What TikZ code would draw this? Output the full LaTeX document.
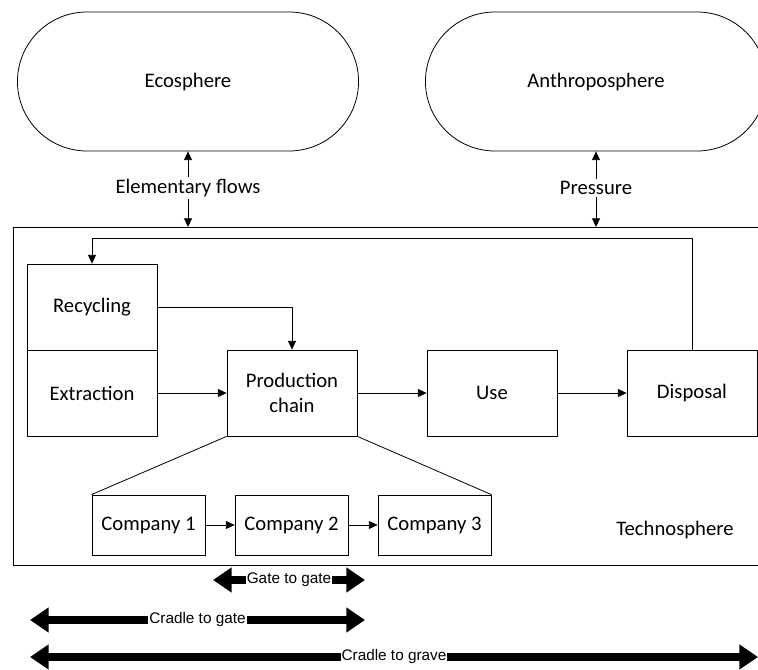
\documentclass[tikz,border=0pt]{standalone}
\usepackage{fontspec}
\setmainfont{Carlito}
\newfontfamily\arialfont{Liberation Sans}
\usetikzlibrary{arrows.meta,shapes.misc,calc}
\begin{document}
\begin{tikzpicture}[x=0.75pt,y=-0.75pt,
  every node/.style={font=\fontsize{15.5}{19}\selectfont},
  sphere/.style={draw, line width=0.6pt, rounded rectangle, minimum width=262.5pt, minimum height=104.25pt},
  box/.style={draw, line width=0.6pt, minimum width=97.5pt, minimum height=64.5pt, inner sep=0pt, align=center},
  comp/.style={draw, line width=0.6pt, minimum width=84.75pt, minimum height=45pt, inner sep=0pt},
  flowlab/.style={inner sep=1.5pt},
  arr/.style={-{Triangle[length=6.5pt,width=6pt]}, line width=0.6pt},
  plain/.style={line width=0.6pt},
  fat/.style={{Triangle[length=14pt,width=18pt]}-{Triangle[length=14pt,width=18pt]}, line width=6pt},
  lab/.style={fill=white, inner sep=0.8pt, font=\arialfont\fontsize{11.5}{13}\selectfont}
]
\useasboundingbox (0,0) rectangle (758,670);
\clip (0,0) rectangle (758,670);

% spheres
\node[sphere] (eco) at (188,81.5) {Ecosphere};
\node[sphere] (anthro) at (596,81.5) {Anthroposphere};

% technosphere container
\node[draw, line width=0.6pt, anchor=north west, minimum width=590pt, minimum height=253.5pt, inner sep=0pt] (techno) at (13,227) {};
\node (technolab) at (675,530) {Technosphere};

% flow labels
\node[flowlab] (ef) at (188,188) {Elementary flows};
\node[flowlab] (pr) at (596,188) {Pressure};
\draw[arr] (ef.north) -- (eco.south);
\draw[arr] (ef.south) -- (ef.south |- techno.north);
\draw[arr] (pr.north) -- (pr.north |- anthro.south);
\draw[arr] (pr.south) -- (pr.south |- techno.north);

% process boxes
\node[box] (rec) at (92,307) {Recycling};
\node[box] (ext) at (92,393) {Extraction};
\node[box] (prod) at (292,393) {Production\\chain};
\node[box] (use) at (492,393) {Use};
\node[box] (disp) at (692,393) {Disposal};

\coordinate (fb) at (0,238);
\draw[arr] (disp.north) -- (disp.north |- fb) -- (rec.north |- fb) -- (rec.north);
\draw[arr] (rec.east) -| (prod.north);
\draw[arr] (ext.east) -- (prod.west);
\draw[arr] (prod.east) -- (use.west);
\draw[arr] (use.east) -- (disp.west);

% companies
\node[comp] (c1) at (148.5,525) {Company 1};
\node[comp] (c2) at (291.5,525) {Company 2};
\node[comp] (c3) at (434.5,525) {Company 3};
\draw[arr] (c1.east) -- (c2.west);
\draw[arr] (c2.east) -- (c3.west);
\draw[plain] (prod.south west) -- (c1.north west);
\draw[plain] (prod.south east) -- (c3.north east);

% scope arrows
\coordinate (g1) at (213,580);
\coordinate (g2) at (365,580);
\coordinate (cg1) at (30,620);
\coordinate (cg2) at (365,620);
\coordinate (cr1) at (30,657);
\coordinate (cr2) at (758,657);
\draw[fat] (g1) -- (g2) node[midway, lab] (gtg) {Gate to gate};
\draw[fat] (cg1) -- (cg2) node[midway, lab] (ctg) {Cradle to gate};
\draw[fat] (cr1) -- (cr2) node[midway, lab] (ctgr) {Cradle to grave};
\end{tikzpicture}
\end{document}
